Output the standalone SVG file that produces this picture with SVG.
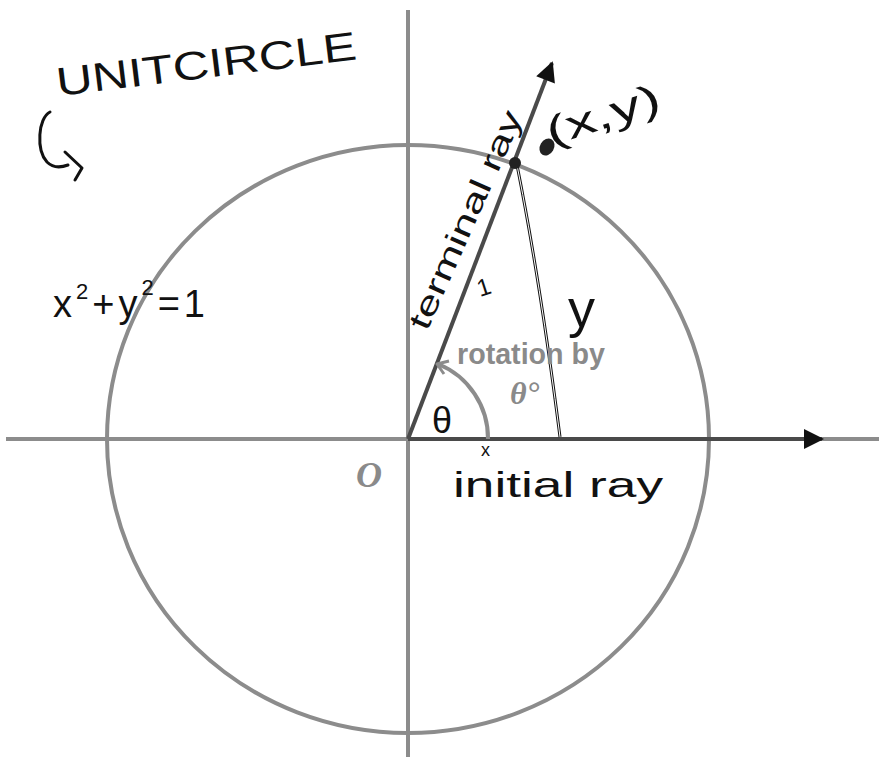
<svg xmlns="http://www.w3.org/2000/svg" width="879" height="757" viewBox="0 0 879 757">
<style>
.axis{stroke:#8c8c8c;stroke-width:4;fill:none}
.ray{stroke:#4a4a4a;stroke-width:4;fill:none}
.hand{font-family:"Liberation Sans","DejaVu Sans",sans-serif;fill:#111}
.gray{font-family:"Liberation Sans",sans-serif;font-weight:bold;fill:#8a8a8a}
.thin{stroke:#111;stroke-width:3;fill:none;stroke-linecap:round;stroke-linejoin:round}
</style>
<defs>
<marker id="ah" viewBox="0 0 10 10" refX="9" refY="5" markerWidth="6" markerHeight="5" orient="auto" markerUnits="strokeWidth">
<path d="M0,0 L10,5 L0,10 Z" fill="#111"/>
</marker>
</defs>
<rect width="879" height="757" fill="#fff"/>
<g id="connectors">
<ellipse id="unit-circle" class="axis" cx="408" cy="439" rx="301" ry="294"/>
<line id="y-axis" class="axis" x1="408" y1="10" x2="408" y2="757"/>
<line id="x-axis" class="axis" x1="6" y1="439" x2="879" y2="439"/>
<line id="initial-ray" class="ray" x1="408" y1="439" x2="822" y2="439" marker-end="url(#ah)"/>
<line id="terminal-ray" class="ray" x1="408" y1="439" x2="552" y2="63" marker-end="url(#ah)"/>
<path id="angle-arc" class="axis" stroke-width="3" d="M488,439 A80,80 0 0 0 438,364"/>
<path id="angle-arc-head" d="M449,361 L437,364 L444,374" stroke="#8c8c8c" stroke-width="3" fill="none" stroke-linejoin="round"/>
<path id="y-line" d="M517,165 Q540,280 560,437" stroke="#111" stroke-width="3" fill="none"/>
<path d="M517,165 Q540,280 560,437" stroke="#fff" stroke-width="1" fill="none"/>
</g>
<g id="point-P">
<circle cx="515" cy="163" r="6" fill="#222"/>
<ellipse cx="547" cy="147" rx="7" ry="9" fill="#222" transform="rotate(30 547 147)"/>
<text class="hand" x="551" y="146" font-size="40" textLength="118" lengthAdjust="spacingAndGlyphs" transform="rotate(-18 551 146)">(x,y)</text>
</g>
<g id="title">
<text class="hand" x="58" y="96" font-size="40" textLength="302" lengthAdjust="spacingAndGlyphs" transform="rotate(-7 58 96)">UNITCIRCLE</text>
<path class="thin" d="M50,112 C38,118 36,150 47,162 C53,168 60,168 68,165 M65,152 L82,168 L75,180"/>
</g>
<g id="equation">
<text class="hand" x="53" y="317" font-size="38" textLength="152" lengthAdjust="spacing">x<tspan font-size="22" dy="-18">2</tspan><tspan dy="18">+y</tspan><tspan font-size="22" dy="-22">2</tspan><tspan dy="22">=1</tspan></text>
</g>
<g id="terminal-label">
<text class="hand" x="427" y="332" font-size="31" textLength="236" lengthAdjust="spacingAndGlyphs" transform="rotate(-66 427 332)">terminal ray</text>
<text class="hand" x="480" y="297" font-size="24" transform="rotate(-18 480 297)">1</text>
</g>
<g id="rotation-label">
<text class="gray" x="457" y="364" font-size="30" textLength="148" lengthAdjust="spacingAndGlyphs">rotation by</text>
<text x="510" y="404" font-family="Liberation Serif,serif" font-style="italic" font-weight="bold" font-size="32" fill="#8a8a8a">θ°</text>
</g>
<g id="theta-label">
<text class="hand" x="432" y="433" font-size="36">θ</text>
</g>
<g id="y-label">
<text class="hand" x="568" y="327" font-size="54">y</text>
</g>
<g id="origin-label">
<text x="356" y="487" font-family="Liberation Serif,serif" font-style="italic" font-weight="bold" font-size="36" fill="#8a8a8a">O</text>
</g>
<g id="x-label">
<text class="hand" x="481" y="456" font-size="18">x</text>
</g>
<g id="initial-label">
<text class="hand" x="453" y="497" font-size="35" textLength="210" lengthAdjust="spacingAndGlyphs">initial ray</text>
</g>
</svg>
